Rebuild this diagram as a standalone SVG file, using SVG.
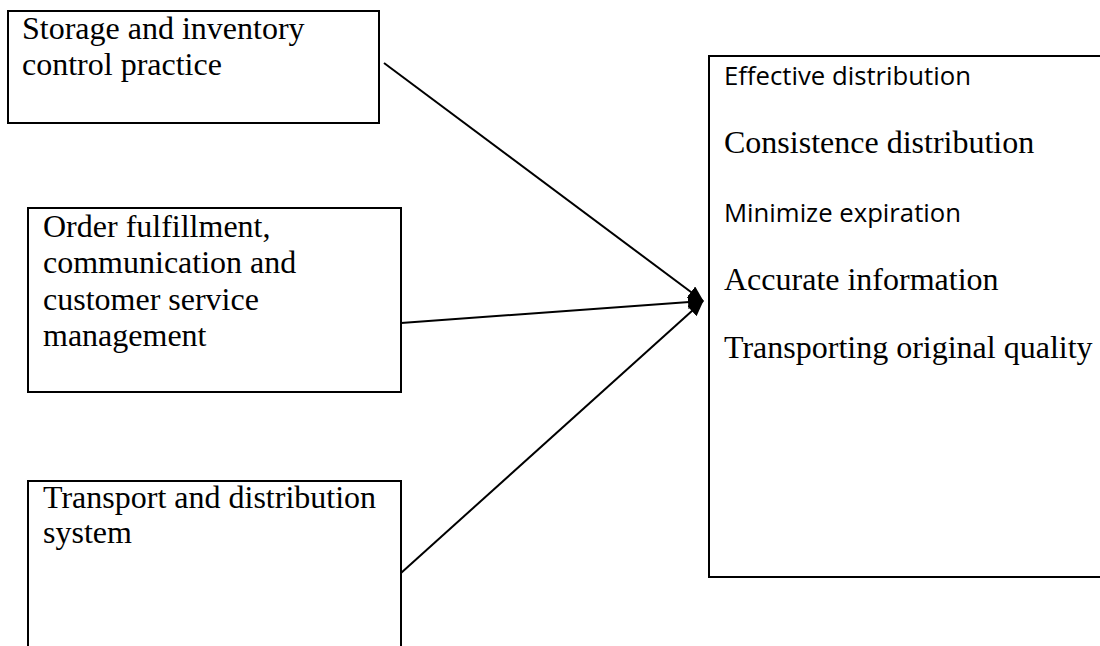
<svg xmlns="http://www.w3.org/2000/svg" width="1100" height="646" viewBox="0 0 1100 646">
<style>
.box{fill:#fff;stroke:#000;stroke-width:2}
.serif{font-family:"Liberation Serif","Times New Roman",serif;font-size:32px;fill:#000}
.sans{font-family:"Open Sans","Noto Sans",sans-serif;font-size:26px;fill:#000}
.conn{stroke:#000;stroke-width:2;fill:none;marker-end:url(#arrow)}
</style>
<defs>
<marker id="arrow" markerWidth="16" markerHeight="14" refX="15" refY="7" orient="auto" markerUnits="userSpaceOnUse">
<path d="M0,0 L16,7 L0,14 Z" fill="#000"/>
</marker>
</defs>
<rect width="1100" height="646" fill="#fff"/>
<g id="storage">
<rect class="box" x="8" y="11" width="371" height="112"/>
<text class="serif" x="22" y="39">Storage and inventory</text>
<text class="serif" x="22" y="75">control practice</text>
</g>
<g id="order">
<rect class="box" x="28" y="208" width="373" height="184"/>
<text class="serif" x="43" y="237">Order fulfillment,</text>
<text class="serif" x="43" y="273">communication and</text>
<text class="serif" x="43" y="310">customer service</text>
<text class="serif" x="43" y="346">management</text>
</g>
<g id="transport">
<rect class="box" x="28" y="481" width="373" height="200"/>
<text class="serif" x="43" y="508">Transport and distribution</text>
<text class="serif" x="43" y="543">system</text>
</g>
<g id="outcomes">
<rect class="box" x="709" y="56" width="420" height="521"/>
<text class="sans" x="724" y="85" textLength="247" lengthAdjust="spacingAndGlyphs">Effective distribution</text>
<text class="serif" x="724" y="153">Consistence distribution</text>
<text class="sans" x="724" y="222" textLength="237" lengthAdjust="spacingAndGlyphs">Minimize expiration</text>
<text class="serif" x="724" y="290">Accurate information</text>
<text class="serif" x="724" y="358">Transporting original quality</text>
</g>
<g id="connectors">
<line class="conn" x1="384" y1="63" x2="703" y2="301"/>
<line class="conn" x1="401" y1="323" x2="703" y2="301"/>
<line class="conn" x1="401" y1="573" x2="703" y2="301"/>
</g>
</svg>
